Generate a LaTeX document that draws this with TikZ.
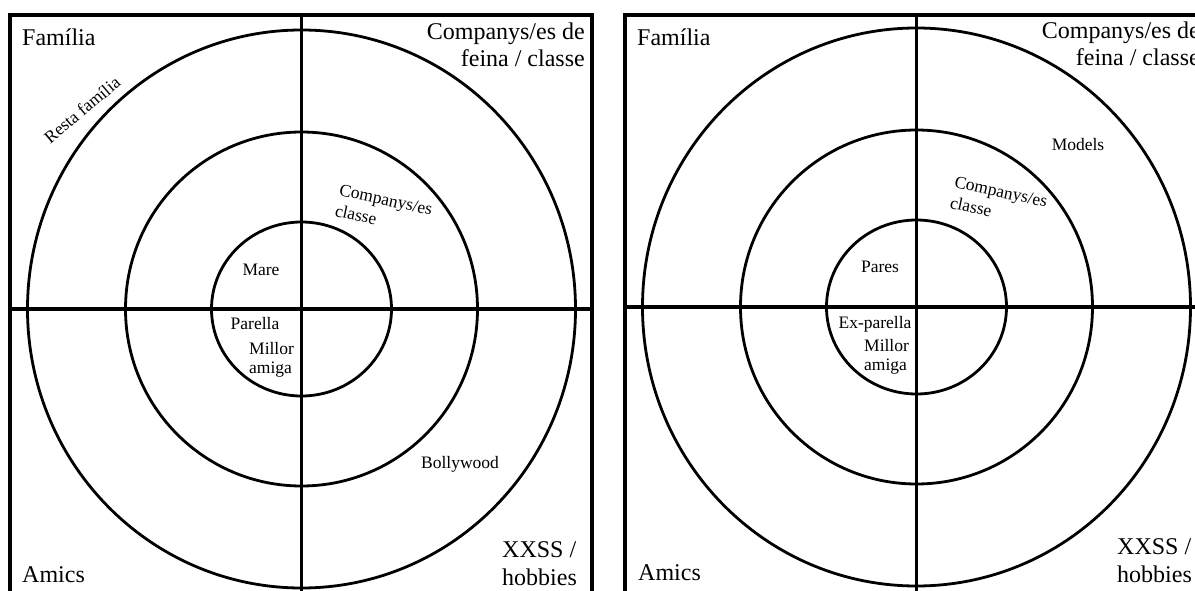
\documentclass[tikz,border=0pt]{standalone}
\usepackage{fontspec}
\setmainfont{Liberation Serif}
\begin{document}
\begin{tikzpicture}[x=1pt,y=-1pt,
  frame/.style={line width=3.2pt},
  ring/.style={line width=2.8pt},
  axis/.style={line width=3.2pt},
  big/.style={font=\fontsize{24}{27.5}\selectfont, inner sep=0pt},
  small/.style={font=\fontsize{17.5}{18.5}\selectfont, inner sep=0pt}]
\useasboundingbox (0,0) rectangle (1195,591);
\clip (0,0) rectangle (1195,591);
% ---------- left panel ----------
\coordinate (cL) at (301.5,309);
\draw[frame] (10,620) -- (10,15) -- (592,15) -- (592,620);
\draw[axis] (10,309) -- (592,309);
\draw[axis] (301.5,15) -- (301.5,620);
\draw[ring] (cL) ellipse [x radius=274, y radius=279];
\draw[ring] (cL) ellipse [x radius=176, y radius=177];
\draw[ring] (cL) ellipse [x radius=90, y radius=87];
\node[big, anchor=base west] (famL) at (22,46) {Família};
\node[big, anchor=base west] (amicsL) at (22,582) {Amics};
\node[big, align=right, anchor=base east] (compL) at (585,67) {Companys/es de\\feina / classe};
\node[big, align=left, anchor=base west] (xxssL) at (502,585) {XXSS /\\hobbies};
\node[small, rotate=40] (restaL) at (82,110) {Resta família};
\node[small, align=left, rotate=-12, anchor=north west, font=\fontsize{17.5}{21}\selectfont] (ccL) at (341,184) {Companys/es\\classe};
\node[small, anchor=base] (mareL) at (261,275) {Mare};
\node[small, anchor=base] (parL) at (255,329) {Parella};
\node[small, align=left, anchor=base west] (milL) at (249,373) {Millor\\amiga};
\node[small, anchor=base] (bolL) at (460,468) {Bollywood};
% ---------- right panel ----------
\coordinate (cR) at (916.5,307);
\draw[frame] (625,620) -- (625,15) -- (1210,15) -- (1210,620);
\draw[axis] (625,307) -- (1210,307);
\draw[axis] (916.5,15) -- (916.5,620);
\draw[ring] (cR) ellipse [x radius=274, y radius=279];
\draw[ring] (cR) ellipse [x radius=176, y radius=177];
\draw[ring] (cR) ellipse [x radius=90, y radius=87];
\node[big, anchor=base west] (famR) at (637,46) {Família};
\node[big, anchor=base west] (amicsR) at (638,580) {Amics};
\node[big, align=right, anchor=base east] (compR) at (1200,66) {Companys/es de\\feina / classe};
\node[big, align=left, anchor=base west] (xxssR) at (1117,582) {XXSS /\\hobbies};
\node[small, anchor=base] (modelsR) at (1078,151) {Models};
\node[small, align=left, rotate=-12, anchor=north west, font=\fontsize{17.5}{21}\selectfont] (ccR) at (956,176) {Companys/es\\classe};
\node[small, anchor=base] (paresR) at (880,272) {Pares};
\node[small, anchor=base] (exR) at (875,328) {Ex-parella};
\node[small, align=left, anchor=base west] (milR) at (864,370) {Millor\\amiga};
\end{tikzpicture}
\end{document}
